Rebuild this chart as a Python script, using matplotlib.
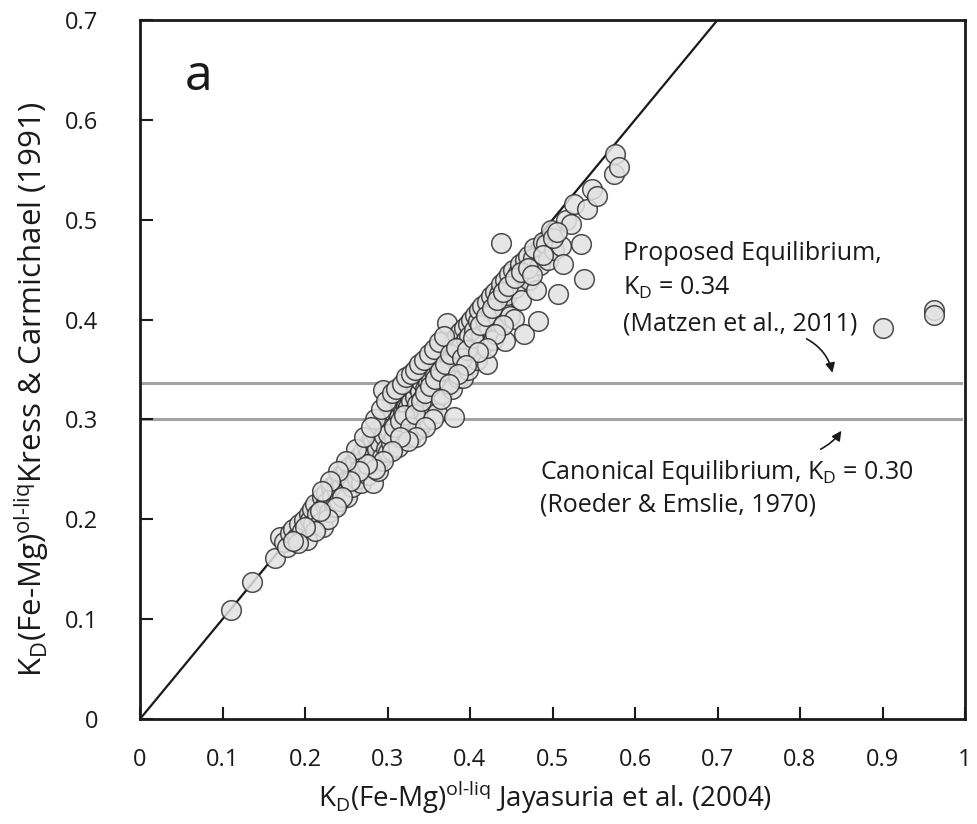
import matplotlib
matplotlib.use("Agg")
import matplotlib.pyplot as plt
from matplotlib.ticker import FixedLocator

plt.rcParams['font.family'] = ['Open Sans', 'DejaVu Sans']
plt.rcParams['mathtext.fontset'] = 'custom'
plt.rcParams['mathtext.rm'] = 'Open Sans'

# Data: KD Jayasuria et al. (2004) vs KD Kress & Carmichael (1991)
kd_jay = [
    0.110, 0.136, 0.164, 0.170, 0.174, 0.178, 0.182, 0.186, 0.190, 0.193, 0.196, 0.199, 0.203, 0.205, 0.206, 0.208,
    0.210, 0.212, 0.215, 0.218, 0.220, 0.222, 0.224, 0.226, 0.227, 0.229, 0.231, 0.233, 0.235, 0.237, 0.239, 0.241,
    0.243, 0.245, 0.246, 0.248, 0.250, 0.251, 0.252,
    0.255, 0.257, 0.258, 0.260, 0.261, 0.263, 0.265, 0.266, 0.268, 0.270, 0.271, 0.273, 0.275, 0.276, 0.278, 0.280,
    0.282, 0.282, 0.284, 0.286, 0.287, 0.289, 0.290, 0.291, 0.293, 0.295, 0.295, 0.296, 0.298, 0.300, 0.300,
    0.302, 0.303, 0.304, 0.305, 0.306, 0.307, 0.308, 0.310, 0.311, 0.312, 0.313, 0.314, 0.315, 0.316, 0.317, 0.318,
    0.319, 0.320, 0.321, 0.322, 0.323, 0.324, 0.325, 0.325, 0.326, 0.328, 0.329, 0.330, 0.331, 0.332, 0.333, 0.334,
    0.335, 0.336, 0.337, 0.338, 0.339, 0.340, 0.341, 0.342, 0.343, 0.344, 0.345, 0.346, 0.347, 0.348, 0.349, 0.350,
    0.352, 0.353, 0.354, 0.355, 0.356, 0.357, 0.358, 0.360, 0.360, 0.361, 0.362, 0.364, 0.365, 0.366, 0.367, 0.368,
    0.369, 0.370, 0.371, 0.372, 0.372, 0.374, 0.375, 0.376, 0.377, 0.378, 0.380, 0.380, 0.381, 0.382, 0.384, 0.385,
    0.386, 0.387, 0.388, 0.390, 0.392, 0.393, 0.394, 0.395, 0.397, 0.398, 0.399,
    0.401, 0.403, 0.405, 0.406, 0.408, 0.410, 0.411, 0.413, 0.415, 0.416, 0.418, 0.420, 0.421, 0.423, 0.425, 0.426,
    0.428, 0.430, 0.432, 0.434, 0.435, 0.437, 0.438, 0.440, 0.442, 0.443, 0.445, 0.447, 0.449,
    0.452, 0.453, 0.455, 0.458, 0.460, 0.462, 0.465, 0.467, 0.470, 0.472, 0.476, 0.478, 0.480, 0.482, 0.485, 0.488,
    0.492, 0.495, 0.498, 0.502, 0.507, 0.510, 0.513, 0.516, 0.522, 0.526, 0.534, 0.538, 0.542, 0.548, 0.554, 0.574,
    0.576, 0.580,
    0.285, 0.292, 0.298, 0.305, 0.310, 0.318, 0.322, 0.328, 0.333, 0.338, 0.344, 0.350, 0.356, 0.362, 0.368, 0.300,
    0.308, 0.315, 0.320, 0.327, 0.333, 0.340, 0.346, 0.352, 0.358, 0.364, 0.370, 0.376, 0.383, 0.390, 0.396, 0.404,
    0.412, 0.419, 0.427, 0.433, 0.440, 0.446, 0.455, 0.462, 0.470, 0.475, 0.488, 0.500, 0.505, 0.440, 0.430, 0.420,
    0.410, 0.395, 0.385, 0.375, 0.365, 0.355, 0.345, 0.335, 0.325, 0.315, 0.305, 0.295, 0.285, 0.275, 0.265, 0.255,
    0.245, 0.238, 0.228, 0.218, 0.212, 0.200, 0.192, 0.185, 0.262, 0.272, 0.280, 0.250, 0.240, 0.230, 0.220,
    0.900, 0.962, 0.962,
]
kd_kress = [
    0.109, 0.137, 0.161, 0.182, 0.177, 0.172, 0.186, 0.190, 0.182, 0.195, 0.188, 0.199, 0.179, 0.205, 0.199, 0.210,
    0.195, 0.215, 0.205, 0.196, 0.222, 0.192, 0.214, 0.226, 0.217, 0.207, 0.232, 0.222, 0.212, 0.236, 0.228, 0.218,
    0.243, 0.234, 0.244, 0.226, 0.250, 0.222, 0.240,
    0.253, 0.232, 0.246, 0.258, 0.256, 0.240, 0.262, 0.250, 0.236, 0.268, 0.252, 0.260, 0.273, 0.244, 0.266, 0.279,
    0.277, 0.236, 0.258, 0.284, 0.270, 0.248, 0.290, 0.276, 0.262, 0.329, 0.294, 0.283, 0.270, 0.267, 0.299,
    0.302, 0.288, 0.276, 0.315, 0.299, 0.307, 0.282, 0.295, 0.310, 0.318, 0.272, 0.302, 0.290, 0.314, 0.322, 0.283,
    0.306, 0.296, 0.320, 0.312, 0.288, 0.309, 0.325, 0.312, 0.300, 0.318, 0.282, 0.330, 0.286, 0.308, 0.322, 0.296,
    0.334, 0.315, 0.340, 0.290, 0.328, 0.305, 0.338, 0.320, 0.296, 0.344, 0.330, 0.312, 0.300, 0.348, 0.336, 0.322,
    0.352, 0.340, 0.310, 0.328, 0.355, 0.345, 0.318, 0.306, 0.360, 0.335, 0.350, 0.364, 0.342, 0.325, 0.356, 0.368,
    0.338, 0.349, 0.362, 0.397, 0.372, 0.362, 0.345, 0.376, 0.360, 0.330, 0.302, 0.380, 0.366, 0.352, 0.384, 0.370,
    0.341, 0.358, 0.388, 0.375, 0.341, 0.392, 0.362, 0.380, 0.396, 0.350, 0.384,
    0.400, 0.370, 0.390, 0.405, 0.360, 0.399, 0.410, 0.385, 0.414, 0.375, 0.400, 0.418, 0.356, 0.392, 0.424, 0.408,
    0.380, 0.428, 0.414, 0.398, 0.426, 0.477, 0.436, 0.410, 0.440, 0.379, 0.425, 0.446, 0.404,
    0.450, 0.401, 0.432, 0.447, 0.456, 0.420, 0.386, 0.460, 0.464, 0.440, 0.462, 0.472, 0.430, 0.399, 0.455, 0.478,
    0.476, 0.460, 0.490, 0.470, 0.426, 0.474, 0.456, 0.500, 0.496, 0.516, 0.476, 0.441, 0.511, 0.531, 0.524, 0.546,
    0.566, 0.553,
    0.300, 0.310, 0.318, 0.326, 0.330, 0.335, 0.342, 0.345, 0.350, 0.356, 0.360, 0.366, 0.371, 0.378, 0.384, 0.285,
    0.292, 0.298, 0.304, 0.292, 0.305, 0.318, 0.326, 0.333, 0.340, 0.348, 0.356, 0.366, 0.372, 0.362, 0.370, 0.382,
    0.395, 0.404, 0.412, 0.420, 0.428, 0.434, 0.442, 0.448, 0.452, 0.445, 0.465, 0.482, 0.488, 0.395, 0.386, 0.372,
    0.368, 0.355, 0.345, 0.335, 0.320, 0.300, 0.292, 0.282, 0.278, 0.282, 0.268, 0.258, 0.250, 0.255, 0.248, 0.238,
    0.222, 0.212, 0.200, 0.208, 0.188, 0.192, 0.176, 0.178, 0.270, 0.282, 0.292, 0.258, 0.248, 0.238, 0.228,
    0.392, 0.410, 0.405,
]

one_to_one = [0.0, 0.7]
kd_proposed = 0.336
kd_canonical = 0.300

x_ticks = [0, 0.1, 0.2, 0.3, 0.4, 0.5, 0.6, 0.7, 0.8, 0.9, 1]
x_tick_labels = ["0", "0.1", "0.2", "0.3", "0.4", "0.5", "0.6", "0.7", "0.8", "0.9", "1"]
y_ticks = [0, 0.1, 0.2, 0.3, 0.4, 0.5, 0.6, 0.7]
y_tick_labels = ["0", "0.1", "0.2", "0.3", "0.4", "0.5", "0.6", "0.7"]

fig = plt.figure(figsize=(9.77, 8.24), dpi=100)
ax = fig.add_axes([140 / 977, 1 - 719 / 824, 825 / 977, 699 / 824])

ax.plot(one_to_one, one_to_one, color='#1a1a1a', lw=1.6, zorder=2)
ax.plot([0, 0.995], [kd_proposed, kd_proposed], color='#a3a3a3', lw=2.2, zorder=1)
ax.plot([0, 0.995], [kd_canonical, kd_canonical], color='#a3a3a3', lw=2.2, zorder=1)

ax.scatter(kd_jay, kd_kress, s=200, facecolor='#e2e2e2', edgecolor='#2e2e2e',
           linewidths=1.1, alpha=0.85, zorder=3)

ax.set_xlim(0, 1)
ax.set_ylim(0, 0.7)
ax.xaxis.set_major_locator(FixedLocator(x_ticks))
ax.yaxis.set_major_locator(FixedLocator(y_ticks))
ax.set_xticklabels(x_tick_labels)
ax.set_yticklabels(y_tick_labels)
ax.tick_params(direction='in', length=9, width=1.5, labelsize=17, colors='#1a1a1a',
               top=False, right=False)
ax.tick_params(axis='x', pad=21)
ax.tick_params(axis='y', pad=30)
for sp in ax.spines.values():
    sp.set_linewidth(2.0)
    sp.set_color('#1a1a1a')

ax.set_xlabel(r'K$_\mathrm{D}$(Fe-Mg)$^\mathrm{ol\text{-}liq}$ Jayasuria et al. (2004)', fontsize=20,
              color='#1a1a1a', va='center')
ax.xaxis.set_label_coords(0.491, -0.113)
ax.set_ylabel(r'K$_\mathrm{D}$(Fe-Mg)$^\mathrm{ol\text{-}liq}$Kress & Carmichael (1991)', fontsize=22.5,
              color='#1a1a1a', va='center')
ax.yaxis.set_label_coords(-0.132, 0.472)

ax.text(0.054, 0.643, 'a', fontsize=36, color='#1a1a1a', ha='left', va='center')

ax.text(0.585, 0.4595, 'Proposed Equilibrium,', fontsize=18, color='#1a1a1a', va='baseline')
ax.text(0.585, 0.4244, r'K$_\mathrm{D}$ = 0.34', fontsize=18, color='#1a1a1a', va='baseline')
ax.text(0.585, 0.3894, '(Matzen et al., 2011)', fontsize=18, color='#1a1a1a', va='baseline')

ax.text(0.485, 0.2405, r'Canonical Equilibrium, K$_\mathrm{D}$ = 0.30', fontsize=18, color='#1a1a1a',
        va='baseline')
ax.text(0.485, 0.2075, '(Roeder & Emslie, 1970)', fontsize=18, color='#1a1a1a', va='baseline')

ax.annotate('', xy=(0.840, 0.344), xytext=(0.805, 0.382),
            arrowprops=dict(arrowstyle='-|>', color='#1a1a1a', lw=1.2,
                            connectionstyle='arc3,rad=-0.25', mutation_scale=14))
ax.annotate('', xy=(0.852, 0.291), xytext=(0.822, 0.269),
            arrowprops=dict(arrowstyle='-|>', color='#1a1a1a', lw=1.2,
                            connectionstyle='arc3,rad=0.15', mutation_scale=14))

fig.savefig('out.png', dpi=100)
